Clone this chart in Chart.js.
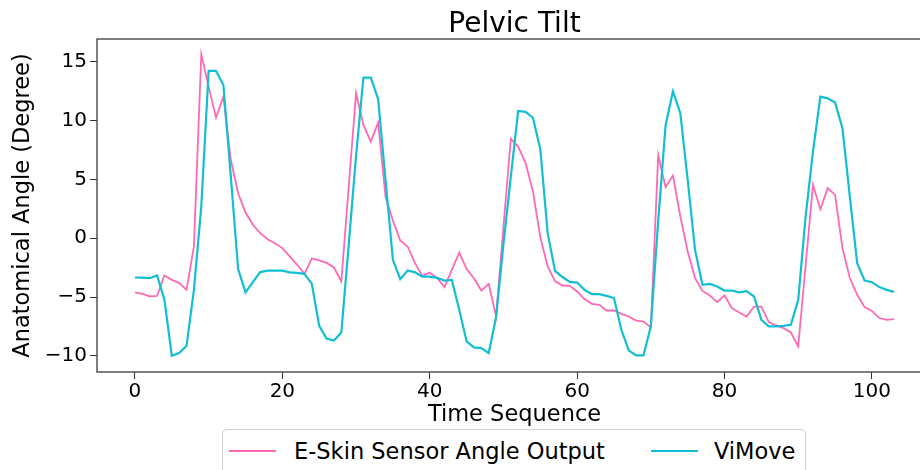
<!DOCTYPE html>
<html><head><meta charset="utf-8">
<script src="https://cdn.jsdelivr.net/npm/chart.js@4/dist/chart.umd.min.js"></script>
<style>
html,body{margin:0;padding:0;overflow:hidden;background:#fff;}
#wrap{position:relative;width:920px;height:470px;overflow:hidden;background:#fff;}
#c{position:absolute;left:0;top:0;}
#legend{position:absolute;left:222px;top:429px;height:50px;box-sizing:border-box;border:1px solid #cfcfcf;border-radius:5px;display:flex;align-items:center;padding:0 10px 6px 6px;font-family:"DejaVu Sans";font-size:22.5px;color:#000;background:#fff;white-space:nowrap;}
.item{display:flex;align-items:center;}
.sw{width:47px;height:2px;margin-right:18px;}
.item + .item{margin-left:46px;}
.item + .item .sw{margin-right:16px;}
</style></head>
<body>
<div id="wrap">
<canvas id="c" width="932" height="430"></canvas>
<div id="legend"></div>
</div>
<script>
// ---- data ----
const seriesNames = ["E-Skin Sensor Angle Output", "ViMove"];
const eskin = [-4.6,-4.74,-4.95,-4.9,-3.17,-3.54,-3.82,-4.39,-0.7,15.65,
12.9,10.26,12.05,6.7,3.83,2.19,1.14,0.43,-0.08,-0.42,
-0.84,-1.55,-2.26,-3.03,-1.72,-1.89,-2.1,-2.49,-3.68,4.35,
12.34,9.64,8.22,9.84,3.5,1.5,-0.19,-0.7,-2.12,-3.2,
-2.92,-3.4,-4.16,-2.69,-1.21,-2.63,-3.4,-4.45,-3.88,-6.66,
1.0,8.45,7.8,6.39,4.0,0.1,-2.4,-3.65,-4.02,-4.05,
-4.53,-5.18,-5.58,-5.67,-6.15,-6.15,-6.43,-6.66,-7.0,-7.09,
-7.59,7.09,4.35,5.33,1.85,-1.13,-3.39,-4.48,-4.87,-5.43,
-4.87,-5.95,-6.32,-6.66,-5.81,-5.81,-7.14,-7.42,-7.65,-8.02,
-9.2,-2.32,4.54,2.47,4.26,3.69,-0.84,-3.39,-4.81,-5.86,
-6.18,-6.79,-6.94,-6.88];
const vimove = [-3.34,-3.35,-3.4,-3.17,-5.24,-10.0,-9.77,-9.15,-4.39,2.7,
14.23,14.23,13.04,5.3,-2.63,-4.6,-3.73,-2.88,-2.75,-2.75,
-2.75,-2.9,-2.95,-3.03,-3.88,-7.45,-8.53,-8.7,-8.02,-0.6,
7.0,13.67,13.67,11.83,4.97,-1.84,-3.48,-2.74,-2.9,-3.26,
-3.26,-3.37,-3.6,-3.55,-6.09,-8.78,-9.29,-9.35,-9.77,-6.71,
-0.5,5.25,10.83,10.75,10.25,7.6,0.43,-2.78,-3.3,-3.71,
-3.77,-4.39,-4.75,-4.75,-4.9,-5.09,-7.79,-9.54,-9.97,-9.97,
-7.5,1.5,9.6,12.5,10.64,4.97,-0.99,-3.96,-3.88,-4.1,
-4.45,-4.45,-4.6,-4.5,-4.96,-6.94,-7.5,-7.5,-7.45,-7.37,
-5.24,1.85,7.37,12.05,11.9,11.54,9.36,3.55,-2.12,-3.6,
-3.74,-4.16,-4.39,-4.56];
const timeSeq = eskin.map((_, i) => i);
const xTicks = [0, 20, 40, 60, 80, 100];
const yTicks = [-10, -5, 0, 5, 10, 15];
const colors = ["#ff69b4", "#12bed3"];

const FONT = "DejaVu Sans";
const framePlugin = {
  id: 'frame',
  afterDraw(chart) {
    const {ctx, chartArea: a} = chart;
    ctx.save();
    ctx.strokeStyle = '#3a3a3a';
    ctx.lineWidth = 1.3;
    ctx.strokeRect(a.left, a.top, a.right - a.left, a.bottom - a.top);
    ctx.restore();
  }
};

const chart = new Chart(document.getElementById('c'), {
  type: 'line',
  data: {
    datasets: [
      {label: seriesNames[0], data: timeSeq.map((x, i) => ({x, y: eskin[i]})),
       borderColor: colors[0], backgroundColor: colors[0], borderWidth: 1.8, pointRadius: 0, tension: 0, order: 2},
      {label: seriesNames[1], data: timeSeq.map((x, i) => ({x, y: vimove[i]})),
       borderColor: colors[1], backgroundColor: colors[1], borderWidth: 2.2, pointRadius: 0, tension: 0, order: 1}
    ]
  },
  options: {
    responsive: false,
    animation: false,
    devicePixelRatio: 1,
    layout: {padding: 0},
    plugins: {
      legend: {display: false},
      tooltip: {enabled: false},
      title: {display: true, text: 'Pelvic Tilt', fullSize: false, color: '#000',
        font: {family: FONT, size: 28, weight: 'normal', lineHeight: 1.0},
        padding: {top: 11, bottom: 0}}
    },
    scales: {
      x: {
        type: 'linear', min: -5.15, max: 108.15,
        afterBuildTicks: s => { s.ticks = xTicks.map(v => ({value: v})); },
        afterFit: s => { s.height = 58; },
        grid: {drawOnChartArea: false, drawTicks: true, tickLength: 7, color: '#333', lineWidth: 1},
        border: {display: false},
        ticks: {color: '#000', font: {family: FONT, size: 20}, padding: 1, maxRotation: 0, autoSkip: false},
        title: {display: true, text: 'Time Sequence', color: '#000', font: {family: FONT, size: 22.5, lineHeight: 1.2}, padding: {top: 0, bottom: 1}}
      },
      y: {
        type: 'linear', min: -11.38, max: 16.95,
        afterBuildTicks: s => { s.ticks = yTicks.map(v => ({value: v})); },
        afterFit: s => { s.width = 97; },
        grid: {drawOnChartArea: false, drawTicks: true, tickLength: 7, color: '#333', lineWidth: 1},
        border: {display: false},
        ticks: {color: '#000', font: {family: FONT, size: 20}, padding: 3,
          callback: v => String(v).replace('-', '\u2212')},
        title: {display: true, text: 'Anatomical Angle (Degree)', color: '#000', font: {family: FONT, size: 22.5, lineHeight: 1.2}, padding: {top: 10, bottom: 0}}
      }
    }
  },
  plugins: [framePlugin]
});

// HTML legend built from the datasets
const leg = document.getElementById('legend');
chart.data.datasets.forEach(ds => {
  const it = document.createElement('div'); it.className = 'item';
  const sw = document.createElement('span'); sw.className = 'sw'; sw.style.background = ds.borderColor;
  const tx = document.createElement('span'); tx.textContent = ds.label;
  it.appendChild(sw); it.appendChild(tx); leg.appendChild(it);
});
</script>
</body></html>
